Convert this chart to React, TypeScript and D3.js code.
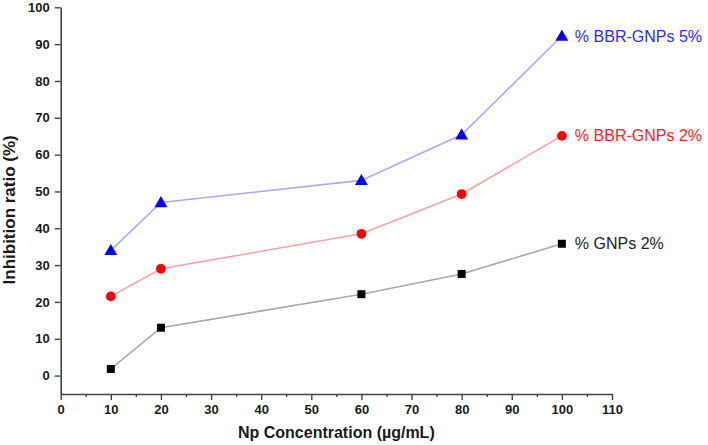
import React, { useEffect, useRef } from "react";
import * as d3 from "d3";

const concentrations = [10, 20, 60, 80, 100];
const gnps2 = [1.8, 13.0, 22.1, 27.6, 35.8];
const bbr2 = [21.5, 29.0, 38.5, 49.3, 65.1];
const bbr5 = [34.0, 47.0, 53.0, 65.4, 92.2];
const xTicks = [0, 10, 20, 30, 40, 50, 60, 70, 80, 90, 100, 110];
const xMinor = [5, 15, 25, 35, 45, 55, 65, 75, 85, 95, 105];
const yTicks = [0, 10, 20, 30, 40, 50, 60, 70, 80, 90, 100];

const seriesList = [
  { name: "% GNPs 2%", values: gnps2, marker: "square", color: "#000000", line: "#a8a8a8", text: "#222222" },
  { name: "% BBR-GNPs 2%", values: bbr2, marker: "circle", color: "#ff0000", line: "#ffa0a0", text: "#ff2020" },
  { name: "% BBR-GNPs 5%", values: bbr5, marker: "triangle", color: "#0000ff", line: "#a8a8ff", text: "#2a2aff" }
];

const width = 708,
  height = 445;

function Chart() {
  const margin = { top: 7.3, right: 96, bottom: 51, left: 60.7 };
  const innerWidth = width - margin.left - margin.right;
  const innerHeight = height - margin.top - margin.bottom;

  const xAxisRef = useRef<SVGGElement>(null);
  const xMinorRef = useRef<SVGGElement>(null);
  const yAxisRef = useRef<SVGGElement>(null);

  const xScale = d3.scaleLinear().domain([0, 110]).range([0, innerWidth]);
  const yScale = d3.scaleLinear().domain([-5, 100]).range([innerHeight, 0]);

  useEffect(() => {
    const xAxis = d3
      .axisBottom(xScale)
      .tickValues(xTicks)
      .tickSize(6)
      .tickSizeOuter(0)
      .tickPadding(5);
    const xg = d3.select(xAxisRef.current!).call(xAxis as any);
    xg.select(".domain").attr("stroke", "#444").attr("stroke-width", 1.6);
    xg.selectAll(".tick line").attr("stroke", "#444").attr("stroke-width", 1.4);
    xg.selectAll(".tick text")
      .attr("fill", "#1a1a1a")
      .style("font-family", "'Liberation Sans', Arial, sans-serif")
      .style("font-size", "13px")
      .style("font-weight", "bold");

    const xm = d3
      .axisBottom(xScale)
      .tickValues(xMinor)
      .tickSize(3)
      .tickSizeOuter(0)
      .tickFormat(() => "");
    const mg = d3.select(xMinorRef.current!).call(xm as any);
    mg.select(".domain").remove();
    mg.selectAll(".tick line").attr("stroke", "#444").attr("stroke-width", 1.4);

    const yAxis = d3
      .axisLeft(yScale)
      .tickValues(yTicks)
      .tickSize(6)
      .tickSizeOuter(0)
      .tickPadding(5);
    const yg = d3.select(yAxisRef.current!).call(yAxis as any);
    yg.select(".domain").attr("stroke", "#444").attr("stroke-width", 1.6);
    yg.selectAll(".tick line").attr("stroke", "#444").attr("stroke-width", 1.4);
    yg.selectAll(".tick text")
      .attr("fill", "#1a1a1a")
      .style("font-family", "'Liberation Sans', Arial, sans-serif")
      .style("font-size", "13px")
      .style("font-weight", "bold");
  }, [xScale, yScale]);

  const line = d3
    .line<number>()
    .x((d, i) => xScale(concentrations[i]))
    .y(d => yScale(d));

  const symbolFor = (m: string) =>
    m === "square"
      ? d3.symbol().type(d3.symbolSquare).size(64)
      : m === "circle"
      ? d3.symbol().type(d3.symbolCircle).size(75)
      : d3.symbol().type(d3.symbolTriangle).size(72);

  const fontFamily = "'Liberation Sans', Arial, sans-serif";

  return (
    <g transform={`translate(${margin.left}, ${margin.top})`}>
      <g ref={xAxisRef} transform={`translate(0, ${innerHeight})`} />
      <g ref={xMinorRef} transform={`translate(0, ${innerHeight})`} />
      <g ref={yAxisRef} />

      {seriesList.map(s => (
        <g key={s.name}>
          <path d={line(s.values) || ""} fill="none" stroke={s.line} strokeWidth={1.6} />
          {s.values.map((v, i) => (
            <path
              key={i}
              d={symbolFor(s.marker)() || ""}
              transform={`translate(${xScale(concentrations[i])}, ${yScale(v) + (s.marker === "triangle" ? 1 : 0)})`}
              fill={s.color}
            />
          ))}
          <text
            x={xScale(concentrations[concentrations.length - 1]) + 13}
            y={yScale(s.values[s.values.length - 1])}
            dy="0.35em"
            fill={s.text}
            style={{ fontFamily, fontSize: "16px" }}
          >
            {s.name}
          </text>
        </g>
      ))}

      <text
        x={innerWidth / 2}
        y={innerHeight + 44}
        textAnchor="middle"
        fill="#1a1a1a"
        style={{ fontFamily, fontSize: "16px", fontWeight: "bold" }}
      >
        Np Concentration (µg/mL)
      </text>
      <text
        transform={`translate(${-margin.left + 15}, ${yScale(45)}) rotate(-90)`}
        textAnchor="middle"
        fill="#1a1a1a"
        style={{ fontFamily, fontSize: "17px", fontWeight: "bold" }}
      >
        Inhibition ratio (%)
      </text>
    </g>
  );
}

export default function App() {
  return (
    <svg
      width={width}
      height={height}
      style={{ position: "absolute", left: 0, top: 0, background: "#ffffff" }}
    >
      <Chart />
    </svg>
  );
}
